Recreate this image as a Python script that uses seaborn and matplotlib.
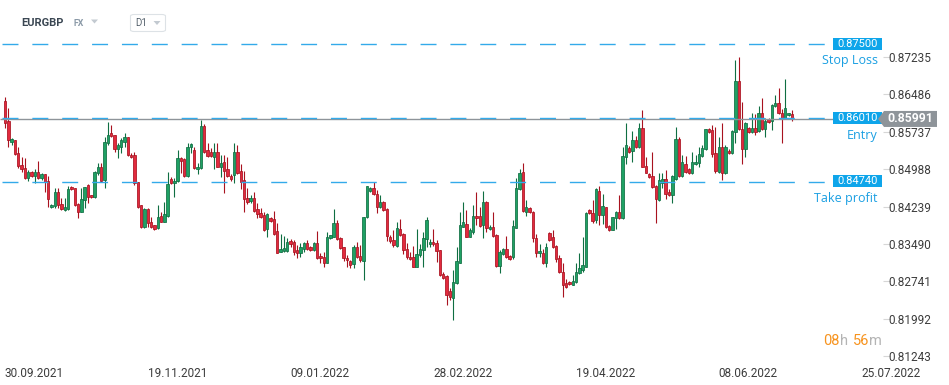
import numpy as np
import pandas as pd
import matplotlib
matplotlib.use("Agg")
import matplotlib.pyplot as plt
import seaborn as sns
from matplotlib.patches import Rectangle, Polygon

# ---------------- data ----------------
opens = [
    .8635, .8595, .8553, .8557, .8531, .8507, .8501, .8481, .8493, .8485,
    .8493, .8481, .8489, .8475, .8423, .8425, .8453, .8429, .8417, .8419,
    .8463, .8461, .8429, .8413, .8437, .8467, .8447, .8443, .8491, .8503,
    .8477, .8551, .8571, .8567, .8539, .8543, .8553, .8563, .8527, .8527,
    .8473, .8427, .8383, .8419, .8393, .8387, .8381, .8405, .8393, .8405,
    .8479, .8471, .8475, .8521, .8519, .8485, .8543, .8537, .8499, .8501,
    .8585, .8537, .8533, .8523, .8533, .8503, .8513, .8499, .8485, .8487,
    .8533, .8495, .8477, .8441, .8435, .8441, .8419, .8411, .8407, .8379,
    .8401, .8399, .8375, .8333, .8335, .8335, .8355, .8353, .8337, .8331,
    .8339, .8351, .8343, .8337, .8351, .8325, .8323, .8311, .8361, .8363,
    .8391, .8361, .8343, .8321, .8315, .8309, .8343, .8325, .8315, .8403,
    .8455, .8461, .8449, .8423, .8433, .8419, .8363, .8357, .8345, .8379,
    .8369, .8339, .8323, .8323, .8303, .8327, .8337, .8359, .8349, .8353,
    .8351, .8337, .8289, .8285, .8255, .8241, .8271, .8311, .8383, .8389,
    .8363, .8373, .8405, .8405, .8387, .8433, .8379, .8383, .8367, .8305,
    .8329, .8339, .8325, .8323, .8381, .8459, .8493, .8413, .8421, .8413,
    .8361, .8331, .8331, .8311, .8371, .8363, .8345, .8321, .8293, .8271,
    .8273, .8267, .8273, .8291, .8297, .8303, .8417, .8411, .8397, .8455,
    .8407, .8423, .8385, .8377, .8401, .8413, .8401, .8523, .8541, .8535,
    .8557, .8543, .8581, .8505, .8489, .8485, .8465, .8437, .8471, .8479,
    .8453, .8447, .8479, .8559, .8485, .8509, .8499, .8491, .8509, .8511,
    .8525, .8539, .8579, .8577, .8531, .8493, .8543, .8491, .8535, .8531,
    .8573, .8675, .8579, .8539, .8581, .8573, .8581, .8575, .8611, .8579,
    .8599, .8595, .8625, .8631, .8611, .8601, .8607, .8609,
]
highs = [
    .8643, .8621, .8561, .8557, .8543, .8523, .8521, .8497, .8495, .8499,
    .8515, .8491, .8489, .8485, .8429, .8461, .8461, .8441, .8441, .8465,
    .8465, .8461, .8431, .8461, .8463, .8469, .8447, .8495, .8511, .8511,
    .8563, .8593, .8587, .8567, .8551, .8561, .8571, .8563, .8531, .8533,
    .8473, .8427, .8421, .8421, .8403, .8387, .8427, .8413, .8433, .8493,
    .8483, .8481, .8537, .8523, .8521, .8551, .8551, .8543, .8511, .8597,
    .8589, .8551, .8541, .8551, .8551, .8527, .8527, .8523, .8489, .8551,
    .8547, .8509, .8495, .8461, .8447, .8453, .8431, .8421, .8413, .8411,
    .8403, .8415, .8391, .8369, .8365, .8361, .8359, .8357, .8347, .8351,
    .8353, .8357, .8345, .8353, .8375, .8331, .8333, .8373, .8367, .8419,
    .8397, .8363, .8343, .8327, .8317, .8347, .8353, .8347, .8403, .8465,
    .8463, .8473, .8457, .8447, .8435, .8421, .8367, .8377, .8393, .8399,
    .8371, .8351, .8333, .8345, .8379, .8349, .8373, .8403, .8359, .8379,
    .8357, .8337, .8293, .8287, .8261, .8297, .8343, .8413, .8433, .8417,
    .8381, .8427, .8453, .8423, .8455, .8435, .8387, .8413, .8369, .8337,
    .8341, .8365, .8327, .8397, .8481, .8499, .8511, .8437, .8423, .8415,
    .8369, .8349, .8339, .8351, .8373, .8377, .8347, .8327, .8311, .8279,
    .8275, .8287, .8311, .8331, .8363, .8413, .8419, .8437, .8461, .8465,
    .8449, .8423, .8387, .8403, .8415, .8447, .8543, .8591, .8545, .8575,
    .8565, .8591, .8617, .8523, .8491, .8533, .8467, .8491, .8491, .8497,
    .8459, .8487, .8583, .8563, .8527, .8525, .8501, .8533, .8527, .8543,
    .8547, .8579, .8581, .8587, .8583, .8563, .8591, .8547, .8539, .8577,
    .8717, .8723, .8633, .8593, .8583, .8611, .8609, .8625, .8641, .8601,
    .8601, .8629, .8647, .8661, .8619, .8679, .8611, .8617,
]
lows = [
    .8581, .8543, .8547, .8527, .8501, .8493, .8479, .8475, .8483, .8471,
    .8479, .8477, .8453, .8423, .8421, .8421, .8421, .8417, .8415, .8417,
    .8457, .8425, .8401, .8413, .8421, .8431, .8441, .8441, .8487, .8473,
    .8461, .8547, .8563, .8533, .8521, .8531, .8543, .8525, .8521, .8467,
    .8421, .8381, .8381, .8383, .8381, .8377, .8379, .8393, .8393, .8403,
    .8469, .8443, .8473, .8491, .8483, .8483, .8531, .8499, .8489, .8499,
    .8531, .8523, .8523, .8499, .8503, .8483, .8451, .8483, .8475, .8471,
    .8489, .8459, .8413, .8429, .8431, .8413, .8401, .8401, .8375, .8363,
    .8393, .8367, .8331, .8333, .8333, .8333, .8343, .8327, .8321, .8323,
    .8333, .8337, .8335, .8335, .8319, .8311, .8303, .8311, .8359, .8363,
    .8357, .8339, .8315, .8303, .8301, .8301, .8321, .8313, .8277, .8401,
    .8453, .8447, .8411, .8421, .8415, .8355, .8351, .8343, .8343, .8365,
    .8329, .8319, .8317, .8303, .8303, .8323, .8303, .8343, .8343, .8345,
    .8313, .8285, .8279, .8227, .8237, .8197, .8269, .8311, .8383, .8363,
    .8363, .8369, .8387, .8383, .8361, .8373, .8377, .8363, .8303, .8291,
    .8327, .8321, .8317, .8319, .8381, .8457, .8413, .8405, .8411, .8353,
    .8323, .8323, .8309, .8303, .8355, .8341, .8313, .8291, .8243, .8261,
    .8267, .8267, .8271, .8289, .8293, .8303, .8409, .8391, .8391, .8387,
    .8389, .8381, .8375, .8377, .8379, .8399, .8399, .8509, .8531, .8513,
    .8541, .8541, .8503, .8491, .8481, .8461, .8391, .8435, .8461, .8439,
    .8445, .8431, .8477, .8483, .8483, .8491, .8489, .8489, .8507, .8503,
    .8523, .8537, .8571, .8523, .8491, .8491, .8477, .8489, .8529, .8529,
    .8551, .8577, .8509, .8523, .8571, .8571, .8567, .8573, .8577, .8563,
    .8591, .8577, .8623, .8609, .8551, .8599, .8605, .8595,
]
closes = [
    .8591, .8557, .8559, .8529, .8505, .8499, .8481, .8493, .8485, .8493,
    .8481, .8489, .8473, .8439, .8427, .8453, .8427, .8419, .8423, .8459,
    .8459, .8427, .8413, .8439, .8463, .8443, .8443, .8493, .8503, .8475,
    .8553, .8567, .8565, .8539, .8547, .8557, .8563, .8527, .8523, .8471,
    .8423, .8383, .8419, .8391, .8383, .8379, .8403, .8393, .8409, .8469,
    .8471, .8475, .8521, .8515, .8485, .8543, .8549, .8501, .8503, .8585,
    .8533, .8525, .8525, .8533, .8503, .8511, .8495, .8485, .8479, .8533,
    .8491, .8473, .8439, .8433, .8441, .8415, .8409, .8403, .8377, .8409,
    .8395, .8369, .8331, .8339, .8341, .8353, .8349, .8333, .8331, .8343,
    .8351, .8339, .8337, .8351, .8321, .8321, .8311, .8363, .8367, .8391,
    .8359, .8341, .8321, .8317, .8307, .8343, .8323, .8317, .8403, .8465,
    .8461, .8449, .8423, .8433, .8417, .8365, .8355, .8347, .8381, .8367,
    .8337, .8323, .8319, .8303, .8329, .8339, .8361, .8397, .8353, .8349,
    .8335, .8287, .8281, .8247, .8243, .8273, .8315, .8387, .8393, .8363,
    .8377, .8405, .8401, .8385, .8433, .8381, .8383, .8365, .8305, .8333,
    .8339, .8323, .8319, .8385, .8461, .8491, .8415, .8423, .8413, .8361,
    .8331, .8335, .8311, .8343, .8357, .8343, .8319, .8293, .8267, .8263,
    .8269, .8275, .8293, .8301, .8307, .8411, .8411, .8395, .8459, .8407,
    .8425, .8383, .8377, .8403, .8413, .8401, .8525, .8547, .8533, .8557,
    .8543, .8581, .8503, .8491, .8483, .8463, .8439, .8477, .8479, .8449,
    .8447, .8485, .8559, .8485, .8513, .8493, .8491, .8513, .8513, .8529,
    .8541, .8579, .8573, .8529, .8495, .8543, .8491, .8543, .8531, .8575,
    .8675, .8579, .8539, .8591, .8573, .8581, .8573, .8611, .8579, .8595,
    .8593, .8627, .8631, .8611, .8601, .8621, .8611, .8599,
]

date_ticks = [0, 43, 86, 129, 172, 215, 258]
date_labels = ["30.09.2021", "19.11.2021", "09.01.2022", "28.02.2022",
               "19.04.2022", "08.06.2022", "25.07.2022"]
price_ticks = [0.87235, 0.86486, 0.85737, 0.84988, 0.84239,
               0.83490, 0.82741, 0.81992, 0.81243]
levels = [0.87500, 0.86010, 0.84740]
level_names = ["Stop Loss", "Entry", "Take profit"]
current_price = 0.85991
symbol = "EURGBP"
market = "FX"
timeframe = "D1"
countdown = [("08", "#f7931e"), ("h", "#b4b4b4"), ("56", "#f7931e"), ("m", "#b4b4b4")]

# ---------------- style ----------------
sns.set_theme(style="white")
plt.rcParams["font.family"] = ["Roboto", "DejaVu Sans"]

W, H = 949, 385
fig = plt.figure(figsize=(W / 100, H / 100), dpi=100)
fig.patch.set_facecolor("white")

PX = 3.32            # pixels per bar
X0 = 5               # pixel of first bar
AX_RIGHT = 890
AX_BOTTOM = 361
ax = fig.add_axes([0, (H - AX_BOTTOM) / H, AX_RIGHT / W, AX_BOTTOM / H])
ax.set_facecolor("white")

def xi(px):
    return (px - X0) / PX

ax.set_xlim(xi(0), xi(AX_RIGHT))
ax.set_ylim(0.8837 - 0.0002 * AX_BOTTOM, 0.8837)

df = pd.DataFrame({"open": opens, "high": highs, "low": lows, "close": closes})
df["idx"] = np.arange(len(df))
up = df["close"] >= df["open"]

G_FILL, G_EDGE = "#1fa164", "#0f6e42"
R_FILL, R_EDGE = "#e22a3e", "#a8121f"

edge = np.where(up, G_EDGE, R_EDGE)
fill = np.where(up, G_FILL, R_FILL)

ax.vlines(df["idx"], df["low"], df["high"], colors=edge, linewidth=0.8, zorder=2)
bottom = np.minimum(df["open"], df["close"])
height = np.maximum(np.abs(df["close"] - df["open"]), 0.00008)
ax.bar(df["idx"], height, bottom=bottom, width=0.72, color=fill,
       edgecolor=edge, linewidth=0.55, zorder=3)

# current price line
ax.plot([xi(0), xi(882)], [current_price, current_price], color="#8e9499",
        lw=1.0, zorder=4, solid_capstyle="butt")

BLUE_LINE = "#33aaea"
BOX_BLUE = "#0ea5ea"
TXT_BLUE = "#1a9fe2"
for lv in levels:
    ax.plot([xi(2), xi(830)], [lv, lv], color=BLUE_LINE, lw=1.0,
            dashes=(11.5, 10.0), dash_capstyle="butt", zorder=5)

# axes cosmetics
for s in ax.spines.values():
    s.set_visible(False)
ax.grid(False)
ax.yaxis.tick_right()
ax.set_yticks(price_ticks)
ax.set_yticklabels([f"{v:.5f}" for v in price_ticks])
ax.tick_params(axis="y", direction="in", length=5, width=0.8, color="#d6d6d6",
               pad=-1, labelsize=8.5, labelcolor="#3c3c3c")
ax.set_xticks(date_ticks)
ax.set_xticklabels(date_labels)
for lbl in ax.get_xticklabels():
    lbl.set_horizontalalignment("left")
ax.tick_params(axis="x", direction="out", length=3, width=0.8, color="#d6d6d6",
               pad=1.5, labelsize=8.5, labelcolor="#3c3c3c")
ax.set_xlabel("")
ax.set_ylabel("")

def fx(px):
    return px / W

# level labels
for lv, name in zip(levels, level_names):
    ypix = ax.transData.transform((0, lv))[1]
    fig.patches.append(Rectangle((fx(833), (ypix - 6) / H), 49 / W, 12 / H,
                                 transform=fig.transFigure, facecolor=BOX_BLUE,
                                 edgecolor="none", zorder=6))
    fig.text(fx(857.5), ypix / H, f"{lv:.5f}", color="white", fontsize=8,
             ha="center", va="center", zorder=7)
    fig.text(fx(878), (ypix - 17) / H, name, color=TXT_BLUE, fontsize=9,
             ha="right", va="center", family=["Open Sans", "DejaVu Sans"], zorder=7)

# current price tag
yp = ax.transData.transform((0, current_price))[1]
poly = [(878, yp), (884, yp + 8), (937, yp + 8), (937, yp - 8), (884, yp - 8)]
fig.patches.append(Polygon([(x / W, y / H) for x, y in poly], closed=True,
                           transform=fig.transFigure, facecolor="#8e9499",
                           edgecolor="none", zorder=8))
fig.text(fx(910), yp / H, f"{current_price:.5f}", color="white", fontsize=8.8,
         fontweight="bold", ha="center", va="center", zorder=9)

# countdown
xs = [823, 840, 853, 869]
for (t, c), x in zip(countdown, xs):
    fig.text(fx(x), 1 - 341 / H, t, color=c, fontsize=10.5, ha="left",
             va="center")

# header
fig.text(fx(21), 1 - 23 / H, symbol, color="#3b4753", fontsize=8,
         fontweight="bold", ha="left", va="center")
fig.text(fx(73), 1 - 24 / H, market, color="#8a99a7", fontsize=6.3,
         fontweight="bold", ha="left", va="center")
def tri(x0, y0, w=7, h=4, col="#c3cad1"):
    pts = [(x0, y0), (x0 + w, y0), (x0 + w / 2, y0 + h)]
    fig.patches.append(Polygon([(x / W, 1 - y / H) for x, y in pts], closed=True,
                               transform=fig.transFigure, facecolor=col,
                               edgecolor="none"))
tri(91, 19.5)
from matplotlib.patches import FancyBboxPatch
fig.patches.append(FancyBboxPatch((fx(130.5), 1 - 31.5 / H), 35 / W, 17 / H,
                                  boxstyle="round,pad=0,rounding_size=0.004",
                                  transform=fig.transFigure, facecolor="white",
                                  edgecolor="#dde2e6", linewidth=0.8))
fig.text(fx(135), 1 - 23.5 / H, timeframe, color="#55616c", fontsize=7,
         ha="left", va="center")
tri(153.5, 21)

fig.savefig("out.png", dpi=100, facecolor="white")
